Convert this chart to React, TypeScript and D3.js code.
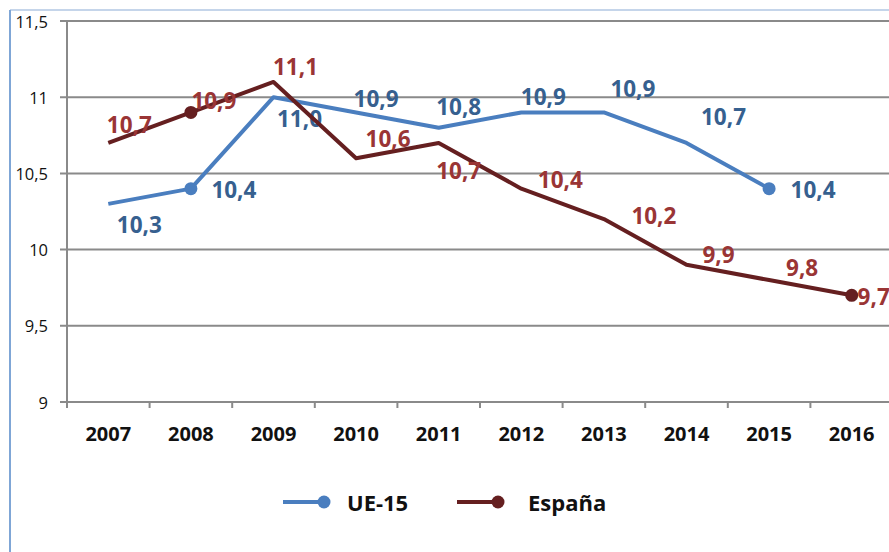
import React from "react";
import * as d3 from "d3";

const years = ["2007", "2008", "2009", "2010", "2011", "2012", "2013", "2014", "2015", "2016"];
const ue15 = [10.3, 10.4, 11.0, 10.9, 10.8, 10.9, 10.9, 10.7, 10.4];
const espana = [10.7, 10.9, 11.1, 10.6, 10.7, 10.4, 10.2, 9.9, 9.8, 9.7];
const yTicks = [9, 9.5, 10, 10.5, 11, 11.5];

// label offsets (Excel placed them by hand, more or less)
const ueLabelOffsets = [[31, 21], [43, 1], [26, 21], [20, -14], [20, -21], [22, -16], [29, -24], [37, -26], [44, 1]];
const esLabelOffsets = [[21, -18], [23, -12], [22, -15], [32, -20], [20, 28], [39, -9], [50, -4], [32, -10], [33, -13], [22, 1]];
// which points carry a marker
const ueMarkers = [1, 8];
const esMarkers = [1, 9];

const W = 889;
const H = 552;
const FONT = "'Open Sans', sans-serif";

const UE_LINE = "#4a7ebf";
const UE_LABEL = "#36608f";
const ES_LINE = "#651f20";
const ES_LABEL = "#9a3535";
const GRID = "#8a8a8a";

const comma = (v: number, dec = 1) => d3.format(`.${dec}f`)(v).replace(".", ",");

function Series({ values, offsets, markers, x, y, line, label }: any) {
  const gen = d3.line<number>()
    .x((_, i) => x(years[i])! + x.bandwidth() / 2)
    .y(d => y(d));
  return (
    <g>
      <path d={gen(values) || ""} fill="none" stroke={line} strokeWidth={4} strokeLinejoin="round" />
      {markers.map((i: number) => (
        <circle key={i} cx={x(years[i])! + x.bandwidth() / 2} cy={y(values[i])} r={6.5} fill={line} />
      ))}
      {values.map((v: number, i: number) => (
        <text key={i}
          x={x(years[i])! + x.bandwidth() / 2 + offsets[i][0]}
          y={y(v) + offsets[i][1]}
          textAnchor="middle" dominantBaseline="central"
          fontFamily={FONT} fontWeight={700} fontSize={22.5} fill={label}>
          {comma(v)}
        </text>
      ))}
    </g>
  );
}

export default function App() {
  const left = 67, top = 21, bottom = 402;
  const x = d3.scaleBand().domain(years).range([left, left + 826]);
  const y = d3.scaleLinear().domain([9, 11.5]).range([bottom, top]);

  return (
    <svg width={W} height={H} style={{ position: "absolute", left: 0, top: 0, background: "#fff" }}>
      {/* outer frame */}
      <line x1={10} x2={W} y1={10} y2={10} stroke="#c5d5ea" strokeWidth={2} />
      <line x1={10} x2={10} y1={10} y2={H} stroke="#7fa6d6" strokeWidth={2} />

      {/* gridlines + y labels */}
      {yTicks.map(t => (
        <g key={t}>
          <line x1={left - 7} x2={W} y1={y(t)} y2={y(t)} stroke={GRID} strokeWidth={2} />
          <text x={48} y={y(t)} textAnchor="end" dominantBaseline="central"
            fontFamily={FONT} fontSize={16.5} fill="#111">{Number.isInteger(t) ? comma(t, 0) : comma(t)}</text>
        </g>
      ))}
      <line x1={left} x2={left} y1={top} y2={bottom + 6} stroke={GRID} strokeWidth={2} />

      {/* x ticks + labels */}
      {years.map(yr => (
        <g key={yr}>
          <line x1={x(yr)! + x.bandwidth()} x2={x(yr)! + x.bandwidth()} y1={bottom} y2={bottom + 6} stroke={GRID} strokeWidth={2} />
          <text x={x(yr)! + x.bandwidth() / 2} y={433} textAnchor="middle" dominantBaseline="central"
            fontFamily={FONT} fontWeight={700} fontSize={20} fill="#111">{yr}</text>
        </g>
      ))}

      <Series values={ue15} offsets={ueLabelOffsets} markers={ueMarkers} x={x} y={y} line={UE_LINE} label={UE_LABEL} />
      <Series values={espana} offsets={esLabelOffsets} markers={esMarkers} x={x} y={y} line={ES_LINE} label={ES_LABEL} />

      {/* legend */}
      <g fontFamily={FONT} fontWeight={700} fontSize={22} fill="#111">
        <line x1={283} x2={324} y1={502} y2={502} stroke={UE_LINE} strokeWidth={4} />
        <circle cx={324} cy={502} r={6.5} fill={UE_LINE} />
        <text x={347} y={502} dominantBaseline="central">UE-15</text>
        <line x1={457} x2={498} y1={502} y2={502} stroke={ES_LINE} strokeWidth={4} />
        <circle cx={498} cy={502} r={6.5} fill={ES_LINE} />
        <text x={528} y={502} dominantBaseline="central">España</text>
      </g>
    </svg>
  );
}
